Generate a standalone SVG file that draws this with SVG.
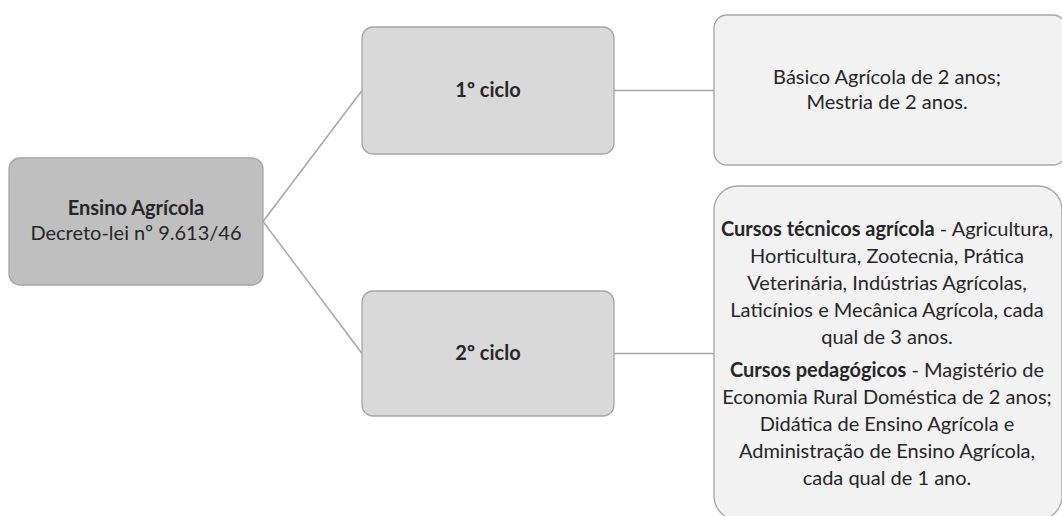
<svg xmlns="http://www.w3.org/2000/svg" width="1062" height="516" viewBox="0 0 1062 516">
  <style>
    .node rect { stroke: #a6a6a6; stroke-width: 1.3; }
    .lvl0 rect { fill: #bfbfbf; }
    .lvl1 rect { fill: #d9d9d9; }
    .lvl2 rect { fill: #f2f2f2; }
    text { font-family: Lato, "Liberation Sans", sans-serif; font-size: 20px; fill: #262626; text-anchor: middle; }
    .b { font-weight: bold; }
    .links line { stroke: #a6a6a6; stroke-width: 1.5; }
  </style>
  <rect width="1062" height="516" fill="#ffffff"/>

  <!-- connectors -->
  <g id="connectors" class="links">
    <line x1="263" y1="221.5" x2="362" y2="90.5"/>
    <line x1="263" y1="221.5" x2="362" y2="353.5"/>
    <line x1="614" y1="90.5" x2="714" y2="90.5"/>
    <line x1="614" y1="353.5" x2="714" y2="353.5"/>
  </g>

  <!-- root -->
  <g id="node-ensino" class="node lvl0">
    <rect x="9" y="158" width="254" height="127" rx="11"/>
    <text x="136" y="215" class="b">Ensino Agrícola</text>
    <text x="136" y="240">Decreto-lei nº 9.613/46</text>
  </g>

  <!-- first level -->
  <g id="node-ciclo1" class="node lvl1">
    <rect x="362" y="27" width="252" height="127" rx="11"/>
    <text x="488" y="97" class="b">1º ciclo</text>
  </g>
  <g id="node-ciclo2" class="node lvl1">
    <rect x="362" y="291" width="252" height="125" rx="11"/>
    <text x="488" y="360" class="b">2º ciclo</text>
  </g>

  <!-- details -->
  <g id="node-ciclo1-cursos" class="node lvl2">
    <rect x="714" y="15" width="352" height="150" rx="13"/>
    <text x="887" y="84">Básico Agrícola de 2 anos;</text>
    <text x="887" y="109">Mestria de 2 anos.</text>
  </g>
  <g id="node-ciclo2-cursos" class="node lvl2">
    <rect x="714" y="186" width="348" height="334" rx="24"/>
    <text x="887" y="236"><tspan class="b">Cursos técnicos agrícola</tspan> - Agricultura,</text>
    <text x="887" y="263">Horticultura, Zootecnia, Prática</text>
    <text x="887" y="290">Veterinária, Indústrias Agrícolas,</text>
    <text x="887" y="317">Laticínios e Mecânica Agrícola, cada</text>
    <text x="887" y="344">qual de 3 anos.</text>
    <text x="887" y="377"><tspan class="b">Cursos pedagógicos</tspan> - Magistério de</text>
    <text x="887" y="404">Economia Rural Doméstica de 2 anos;</text>
    <text x="887" y="431">Didática de Ensino Agrícola e</text>
    <text x="887" y="458">Administração de Ensino Agrícola,</text>
    <text x="887" y="485">cada qual de 1 ano.</text>
  </g>
</svg>
